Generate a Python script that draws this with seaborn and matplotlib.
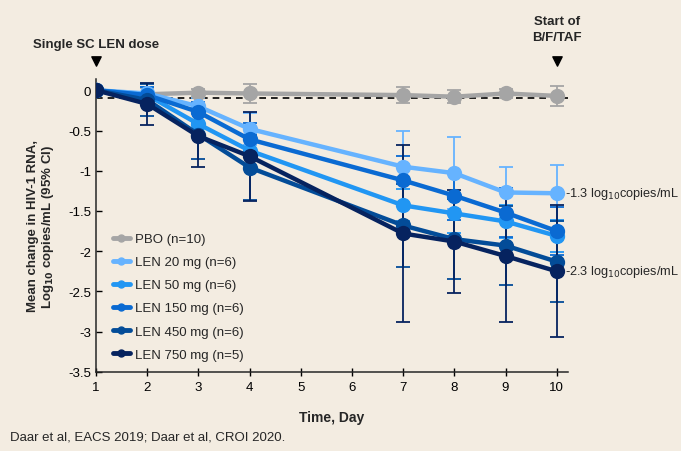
import matplotlib
matplotlib.use('Agg')
import matplotlib.pyplot as plt
import matplotlib.transforms as mtransforms
from matplotlib.lines import Line2D
import seaborn as sns
import pandas as pd

# Values
days = [1, 2, 3, 4, 7, 8, 9, 10]
groups = ['PBO (n=10)', 'LEN 20 mg (n=6)', 'LEN 50 mg (n=6)',
          'LEN 150 mg (n=6)', 'LEN 450 mg (n=6)', 'LEN 750 mg (n=5)']
pbo = [0, -0.05, -0.03, -0.04, -0.06, -0.08, -0.04, -0.07]
len20 = [0, -0.04, -0.20, -0.48, -0.95, -1.03, -1.27, -1.28]
len50 = [0, -0.06, -0.42, -0.75, -1.43, -1.53, -1.63, -1.81]
len150 = [0, -0.06, -0.27, -0.61, -1.12, -1.31, -1.52, -1.75]
len450 = [0, -0.12, -0.55, -0.96, -1.68, -1.85, -1.93, -2.13]
len750 = [0, -0.17, -0.57, -0.82, -1.78, -1.88, -2.06, -2.25]
# half-width of 95% CI
pbo_ci = [0, 0.08, 0.05, 0.12, 0.10, 0.08, 0.06, 0.12]
len20_ci = [0, 0.08, 0.10, 0.20, 0.45, 0.45, 0.32, 0.35]
len50_ci = [0, 0.10, 0.15, 0.20, 0.20, 0.25, 0.20, 0.20]
len150_ci = [0, 0.10, 0.12, 0.20, 0.30, 0.30, 0.30, 0.30]
len450_ci = [0, 0.20, 0.30, 0.40, 0.52, 0.50, 0.49, 0.50]
len750_ci = [0, 0.26, 0.38, 0.55, 1.10, 0.64, 0.82, 0.82]
colors = ['#A5A5A5', '#66B3FF', '#2196F3', '#0A6AD2', '#034C98', '#06235F']
bg = '#F3ECE1'

means = [pbo, len20, len50, len150, len450, len750]
cis = [pbo_ci, len20_ci, len50_ci, len150_ci, len450_ci, len750_ci]

rows = []
for g, m, c in zip(groups, means, cis):
    for d, v, e in zip(days, m, c):
        rows.append({'day': d, 'change': v, 'ci': e, 'group': g})
df = pd.DataFrame(rows)
palette = dict(zip(groups, colors))

sns.set_style('ticks')
plt.rcParams['font.family'] = ['Liberation Sans', 'DejaVu Sans']

fig = plt.figure(figsize=(6.81, 4.52), dpi=100, facecolor=bg)
ax = fig.add_axes([0.141, 0.175, 0.693, 0.648])
ax.set_facecolor(bg)

# reference dashed line
ax.axhline(-0.1, color='black', lw=1.2, ls=(0, (4, 3)), zorder=1)

# error bars in each group's colour
for g in groups:
    sub = df[df['group'] == g]
    ax.errorbar(sub['day'], sub['change'], yerr=sub['ci'], fmt='none',
                ecolor=palette[g], elinewidth=1.3, capsize=5, capthick=1.3, zorder=2)

sns.lineplot(data=df, x='day', y='change', hue='group', hue_order=groups,
             palette=palette, marker='o', markersize=11, markeredgewidth=0,
             linewidth=3.2, legend=False, ax=ax, zorder=3)

ax.set_xlim(1, 10.22)
ax.set_ylim(-3.5, 0.14)
ax.set_xticks(range(1, 11))
ax.set_yticks([0, -0.5, -1, -1.5, -2, -2.5, -3, -3.5])
ax.set_yticklabels(['0', '-0.5', '-1', '-1.5', '-2', '-2.5', '-3', '-3.5'])
ax.tick_params(axis='both', direction='inout', length=6, width=1, labelsize=9.5,
               colors='black')
ax.tick_params(axis='y', direction='in', length=4)
for s in ['top', 'right']:
    ax.spines[s].set_visible(False)
for s in ['left', 'bottom']:
    ax.spines[s].set_linewidth(1.1)

ax.set_xlabel('Time, Day', fontsize=10, fontweight='bold', labelpad=12)
ax.set_ylabel('Mean change in HIV-1 RNA,\nLog$_\\mathbf{10}$ copies/mL (95% CI)',
              fontsize=9.5, fontweight='bold', labelpad=9, linespacing=1.1)

# legend
handles = [Line2D([0], [0], color=palette[g], lw=3.5, marker='o', markersize=5)
           for g in groups]
ax.legend(handles, groups, loc='lower left', bbox_to_anchor=(0.01, -0.002),
          frameon=False, fontsize=9.5, handlelength=1.3, handletextpad=0.4,
          labelspacing=0.82)

# end-point annotations
ax.text(10.17, len20[-1], '-1.3 log$_{10}$copies/mL', fontsize=9.2, va='center', ha='left')
ax.text(10.17, len750[-1], '-2.3 log$_{10}$copies/mL', fontsize=9.2, va='center', ha='left')

# dosing markers above the axes
trans = mtransforms.blended_transform_factory(ax.transData, ax.transAxes)
ax.scatter([1, 10], [1.062, 1.062], marker='v', s=45, color='black',
           transform=trans, clip_on=False)
ax.text(1, 1.12, 'Single SC LEN dose', transform=trans, ha='center', va='center',
        fontsize=9.5, fontweight='bold')
ax.text(10, 1.17, 'Start of\nB/F/TAF', transform=trans, ha='center', va='center',
        fontsize=9.5, fontweight='bold', linespacing=1.45)

fig.text(0.015, 0.033, 'Daar et al, EACS 2019; Daar et al, CROI 2020.', fontsize=9.5,
         va='center')

fig.savefig('out.png', dpi=100, facecolor=bg)
